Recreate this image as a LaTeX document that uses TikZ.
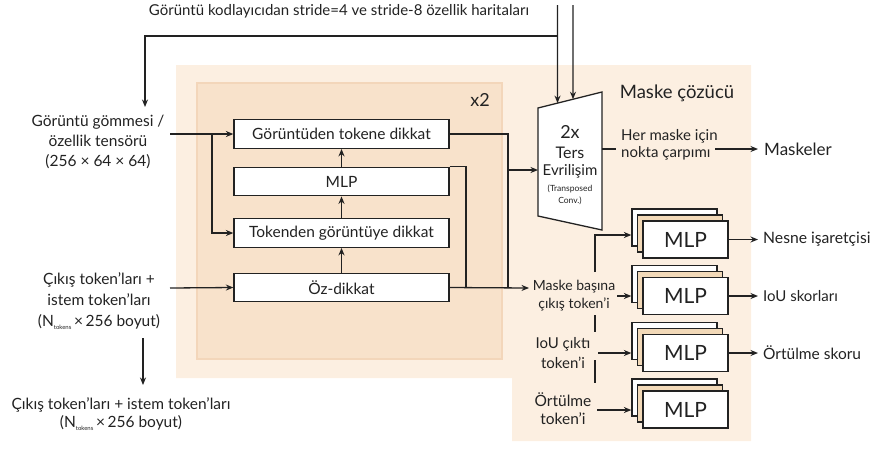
\documentclass[tikz,border=0pt]{standalone}
\usepackage{fontspec}
\setmainfont{Lato}
\usetikzlibrary{arrows.meta,calc}
\definecolor{bgout}{RGB}{252,239,225}
\definecolor{bgin}{RGB}{248,226,203}
\definecolor{bginline}{RGB}{243,214,186}
\definecolor{tanmid}{RGB}{242,217,184}
\definecolor{ink}{RGB}{34,34,34}
\newcommand{\myfs}[2]{\fontsize{#1}{#2}\selectfont}
\newcommand{\ntok}{N\raisebox{-2.5pt}{\myfs{6}{6}tokens}\,×\,256 boyut}
\begin{document}
\begin{tikzpicture}[x=1pt,y=-1pt,
  ln/.style={line width=1.3pt, draw=ink},
  arr/.style={ln, -{Stealth[length=7.5pt,width=6pt]}},
  blk/.style={draw=ink, line width=1.3pt, fill=white, minimum width=215pt, minimum height=28.5pt, inner sep=0pt, font=\myfs{15.5}{18}, text=ink},
  lbl/.style={align=center, inner sep=0pt, font=\myfs{15}{18}, text=ink},
  mlpb/.style={draw=ink, line width=1.3pt, fill=white, minimum width=85pt, minimum height=37pt, inner sep=0pt, font=\myfs{21}{21}, text=ink},
]
\useasboundingbox (0,0) rectangle (877,448);
% backgrounds
\fill[bgout] (176,65) -- (751,65) -- (751,441) -- (512,441) -- (512,378) -- (176,378) -- cycle;
\filldraw[fill=bgin, draw=bginline, line width=1.5pt] (197,83) rectangle (502,359);

% title and top feeds
\node[lbl, font=\myfs{15}{16}] (title) at (339,11) {Görüntü kodlayıcıdan stride=4 ve stride-8 özellik haritaları};
\coordinate (tl) at (538,108);
\coordinate (tr) at (602,92);
\coordinate (br) at (602,230);
\coordinate (bl) at (538,216);
\draw[ln, fill=white] (tl) -- (tr) -- (br) -- (bl) -- cycle;
\coordinate (s4) at (557.5,5);
\coordinate (s8) at (573,5);
\coordinate (e4) at ($(tl)!0.305!(tr)$);
\coordinate (e8) at ($(tl)!0.547!(tr)$);
\draw[arr] (s4) -- (e4);
\draw[arr] (s8) -- (e8);
\coordinate (j) at (557.5,36);
\coordinate (embin) at (145,107);
\draw[arr] (j) -| (embin);

% trapezoid text
\node[lbl, font=\myfs{18}{18}] (t2x) at (570,132) {2x};
\node[lbl, font=\myfs{16}{18}] (tters) at (570,153) {Ters};
\node[lbl, font=\myfs{15}{17}] (tevr) at (570,171) {Evrilişim};
\node[lbl, font=\myfs{8.5}{12}] (ttc) at (570,195) {(Transposed\\Conv.)};

% inner blocks
\node[blk] (gtd) at (341.5,134) {Görüntüden tokene dikkat};
\node[blk] (mlp) at (341.5,181.5) {MLP};
\node[blk] (tgd) at (341.5,233) {Tokenden görüntüye dikkat};
\node[blk] (oz) at (341.5,287.5) {Öz-dikkat};
\draw[arr] (oz.north) -- (tgd.south);
\draw[arr] (tgd.north) -- (mlp.south);
\draw[arr] (mlp.north) -- (gtd.south);
\node[lbl, font=\myfs{18}{18}] (x2) at (480,100) {x2};
\node[lbl, font=\myfs{18.5}{18}] (mc) at (677,93) {Maske çözücü};

% left inputs
\node[lbl, font=\myfs{15.5}{20}] (emb) at (98,142) {Görüntü gömmesi /\\özellik tensörü\\(256 × 64 × 64)};
\coordinate (embout) at (170,134);
\draw[arr] (embout) -- (gtd.west);
\coordinate (br1) at (212,134);
\draw[arr] (br1) |- (tgd.west);
\node[lbl, font=\myfs{15.5}{21}] (tok) at (99,301) {Çıkış token’ları +\\istem token’ları\\(\ntok)};
\coordinate (tokout) at (170,288);
\draw[arr] (tokout) -- (oz.west);
\coordinate (d1) at (143,338);
\coordinate (d2) at (143,385);
\draw[arr] (d1) -- (d2);
\node[lbl, font=\myfs{15.5}{18}] (out2) at (121,414) {Çıkış token’ları + istem token’ları\\(\ntok)};

% inner to decoder connectors
\coordinate (jb) at (508,288);
\draw[ln] (gtd.east) -| (jb);
\coordinate (jc) at (508,170);
\draw[arr] (jc) -- (jc -| tl);
\coordinate (jd) at (466,288);
\draw[ln] (mlp.north east) -| (jd);
\coordinate (mbin) at (529,288);
\draw[arr] (oz.east) -- (mbin);

% mask outputs
\coordinate (tr149) at (602,149);
\coordinate (hmin) at (616,149);
\draw[ln] (tr149) -- (hmin);
\node[lbl, align=left, anchor=west, font=\myfs{15}{16.5}] (hm) at (621,145) {Her maske için\\nokta çarpımı};
\node[lbl, anchor=west, font=\myfs{17}{18}] (msk) at (764,149) {Maskeler};
\coordinate (hmout) at (715,149);
\draw[arr] (hmout) -- ([xshift=-6pt]msk.west);

% token labels
\node[lbl, font=\myfs{14}{18}] (mb) at (574,296) {Maske başına\\çıkış token’i};
\node[lbl, font=\myfs{15}{20}] (iou) at (563,353) {IoU çıktı\\token’i};
\node[lbl, font=\myfs{15.5}{18}] (ort) at (563,409) {Örtülme\\token’i};

% MLP stacks
\foreach \i/\c in {1/239.5,2/296,3/353,4/409.5}{
  \node[mlpb] (sb\i) at (674.5,\c-12) {};
  \node[mlpb, fill=tanmid] (sm\i) at (680,\c-6) {};
  \node[mlpb] (sf\i) at (685.5,\c) {MLP};
}

% vertical bus
\coordinate (v0) at (595,235);
\coordinate (v1) at (595,272);
\draw[arr] (v1) -- (v0) -- (v0 -| sb1.west);
\coordinate (v2) at (595,315);
\coordinate (v3) at (595,332);
\draw[ln] (v2) -- (v3);
\coordinate (v4) at (595,360);
\coordinate (v5) at (595,383);
\draw[ln] (v4) -- (v5);
\coordinate (mbout) at (617,296);
\draw[arr] (mbout) -- (mbout -| sb2.west);
\coordinate (iouout) at (598,353);
\draw[arr] (iouout) -- (iouout -| sb3.west);
\coordinate (ortout) at (597,410);
\draw[arr] (ortout) -- (ortout -| sb4.west);

% outputs
\node[lbl, anchor=west, font=\myfs{15.7}{18}] (nes) at (763,239.5) {Nesne işaretçisi};
\node[lbl, anchor=west] (ious) at (763,296) {IoU skorları};
\node[lbl, anchor=west, font=\myfs{15.5}{18}] (orts) at (763,353) {Örtülme skoru};
\draw[arr] (sf1.east) -- ([xshift=-5pt]nes.west);
\draw[arr] (sf2.east) -- ([xshift=-5pt]ious.west);
\draw[arr] (sf3.east) -- ([xshift=-5pt]orts.west);
\end{tikzpicture}
\end{document}
